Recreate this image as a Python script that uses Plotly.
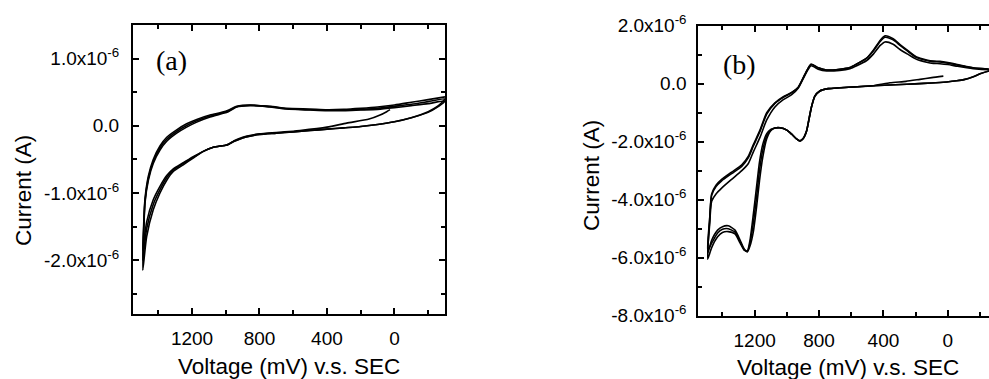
import plotly.graph_objects as go

# ---------------- Panel (a) data (voltage mV, current in microamps) ----------------
a_tail_V = [26, 46, 85, 150, 283, 400, 560]
a_tail_I = [0.24, 0.21, 0.16, 0.10, 0.04, -0.02, -0.07]

a_low_V = [-300, -250, -200, -100, 0, 100, 200, 300, 400, 500, 600, 700, 800, 850, 900,
           950, 980, 1000, 1030, 1074, 1133, 1193, 1252, 1311, 1350, 1390, 1430, 1469, 1492]
a_low_I1 = [0.43, 0.29, 0.22, 0.13, 0.07, 0.03, 0.00, -0.02, -0.04, -0.06, -0.08, -0.10, -0.12, -0.14, -0.17,
            -0.22, -0.27, -0.29, -0.30, -0.32, -0.38, -0.48, -0.58, -0.68, -0.81, -1.00, -1.25, -1.65, -2.15]
a_low_I2 = [0.40, 0.28, 0.21, 0.12, 0.06, 0.02, -0.01, -0.03, -0.05, -0.07, -0.09, -0.11, -0.13, -0.15, -0.18,
            -0.23, -0.27, -0.29, -0.30, -0.32, -0.38, -0.47, -0.56, -0.66, -0.77, -0.95, -1.17, -1.53, -2.00]
a_low_I3 = [0.37, 0.27, 0.20, 0.12, 0.06, 0.02, -0.01, -0.03, -0.05, -0.07, -0.09, -0.11, -0.13, -0.15, -0.18,
            -0.23, -0.27, -0.29, -0.30, -0.32, -0.38, -0.46, -0.55, -0.64, -0.74, -0.90, -1.10, -1.43, -1.85]

a_up_V = [1492, 1489, 1479, 1459, 1430, 1390, 1350, 1291, 1232, 1172, 1093, 1024, 985, 935,
          856, 738, 639, 500, 400, 300, 200, 100, 0, -100, -200, -300]
a_up_I1 = [-2.15, -1.80, -1.15, -0.81, -0.56, -0.36, -0.23, -0.11, -0.02, 0.055, 0.13, 0.18, 0.21, 0.28,
           0.30, 0.29, 0.26, 0.25, 0.24, 0.245, 0.26, 0.28, 0.31, 0.35, 0.39, 0.43]
a_up_I2 = [-2.00, -1.72, -1.12, -0.78, -0.53, -0.33, -0.20, -0.085, 0.005, 0.075, 0.145, 0.19, 0.22, 0.285,
           0.305, 0.285, 0.255, 0.24, 0.235, 0.235, 0.245, 0.26, 0.29, 0.32, 0.36, 0.40]
a_up_I3 = [-1.85, -1.62, -1.09, -0.75, -0.50, -0.30, -0.17, -0.06, 0.03, 0.095, 0.16, 0.20, 0.23, 0.29,
           0.31, 0.28, 0.25, 0.235, 0.225, 0.225, 0.235, 0.245, 0.27, 0.30, 0.33, 0.37]

# ---------------- Panel (b) data ----------------
b_tail_V = [28, 100, 173, 260, 360, 463]
b_tail_I = [0.26, 0.21, 0.15, 0.08, 0.03, -0.07]

b_low_V = [-300, -255, -200, -158, -100, -55, 7, 49, 150, 256, 463, 670, 743, 795, 826, 846, 860, 877,
           900, 918, 940, 970, 1000, 1043, 1074, 1100, 1125, 1150, 1170, 1187, 1208, 1229, 1245, 1265,
           1290, 1322, 1364, 1400, 1430, 1467, 1492]
b_low_I1 = [0.48, 0.44, 0.34, 0.24, 0.14, 0.10, 0.06, 0.04, 0.01, -0.02, -0.07, -0.14, -0.17, -0.25, -0.43,
            -0.78, -1.15, -1.62, -1.90, -1.97, -1.90, -1.74, -1.60, -1.52, -1.53, -1.62, -1.90, -2.55,
            -3.35, -4.20, -5.10, -5.60, -5.80, -5.70, -5.40, -5.05, -4.90, -4.93, -5.05, -5.40, -5.86]
b_low_I2 = [0.48, 0.44, 0.34, 0.24, 0.14, 0.10, 0.06, 0.04, 0.01, -0.02, -0.07, -0.14, -0.17, -0.25, -0.43,
            -0.78, -1.15, -1.62, -1.90, -1.97, -1.90, -1.74, -1.60, -1.52, -1.53, -1.60, -1.80, -2.30,
            -3.00, -3.85, -4.80, -5.50, -5.78, -5.72, -5.45, -5.12, -5.00, -5.02, -5.15, -5.50, -5.75]
b_low_I3 = [0.48, 0.44, 0.34, 0.24, 0.14, 0.10, 0.06, 0.04, 0.01, -0.02, -0.07, -0.14, -0.17, -0.25, -0.43,
            -0.78, -1.15, -1.62, -1.90, -1.97, -1.90, -1.74, -1.60, -1.52, -1.53, -1.58, -1.72, -2.10,
            -2.70, -3.50, -4.50, -5.40, -5.76, -5.74, -5.50, -5.18, -5.10, -5.13, -5.28, -5.65, -6.05]

b_up_V = [1492, 1480, 1467, 1440, 1405, 1343, 1280, 1239, 1208, 1167, 1125, 1074, 1022, 970, 929, 887,
          850, 805, 753, 671, 608, 566, 504, 463, 420, 390, 340, 297, 250, 194, 132, 90, 49, 0, -60,
          -117, -158, -255, -300]
b_up_I1 = [-5.86, -4.90, -4.05, -3.80, -3.60, -3.30, -3.00, -2.75, -2.35, -1.85, -1.25, -0.80, -0.55,
           -0.38, -0.15, 0.30, 0.62, 0.50, 0.44, 0.46, 0.52, 0.62, 0.80, 1.02, 1.32, 1.44, 1.36, 1.18,
           1.02, 0.84, 0.74, 0.70, 0.69, 0.66, 0.60, 0.55, 0.52, 0.48, 0.48]
b_up_I2 = [-5.75, -4.70, -3.85, -3.55, -3.35, -3.10, -2.85, -2.55, -2.15, -1.65, -1.05, -0.68, -0.47,
           -0.31, -0.12, 0.33, 0.67, 0.55, 0.47, 0.50, 0.56, 0.68, 0.88, 1.13, 1.46, 1.60, 1.51, 1.32,
           1.12, 0.90, 0.80, 0.76, 0.75, 0.71, 0.64, 0.58, 0.54, 0.50, 0.48]
b_up_I3 = [-6.05, -4.75, -3.80, -3.50, -3.30, -3.05, -2.80, -2.50, -2.10, -1.60, -1.00, -0.66, -0.45,
           -0.30, -0.12, 0.33, 0.67, 0.55, 0.47, 0.50, 0.56, 0.68, 0.88, 1.15, 1.50, 1.65, 1.55, 1.35,
           1.15, 0.92, 0.82, 0.78, 0.77, 0.73, 0.66, 0.59, 0.55, 0.50, 0.48]

a_yticks = [1.0, 0.0, -1.0, -2.0]
a_ytext = ["1.0x10<sup>-6</sup>", "0.0", "-1.0x10<sup>-6</sup>", "-2.0x10<sup>-6</sup>"]
b_yticks = [2.0, 0.0, -2.0, -4.0, -6.0, -8.0]
b_ytext = ["2.0x10<sup>-6</sup>", "0.0", "-2.0x10<sup>-6</sup>", "-4.0x10<sup>-6</sup>",
           "-6.0x10<sup>-6</sup>", "-8.0x10<sup>-6</sup>"]
x_ticks = [1200, 800, 400, 0]
x_minor = [1400, 1000, 600, 200, -200]

UA = 1e-6


def sel(V, I, vmin):
    out_v, out_i = [], []
    for v, i in zip(V, I):
        if v >= vmin:
            out_v.append(v)
            out_i.append(i)
    return out_v, out_i


def cycle(lowV, lowI, upV, upI, tailV=None, tailI=None, join=None):
    xs, ys = [], []
    if tailV is not None:
        xs += tailV
        ys += tailI
        lv, li = sel(lowV, lowI, join)
        xs += lv
        ys += li
    else:
        xs += lowV
        ys += lowI
    xs += upV[1:]
    ys += upI[1:]
    return xs, [y * UA for y in ys]


fig = go.Figure()
line = dict(color="black", width=1.6, shape="spline", smoothing=0.6)

for k, (li, ui) in enumerate([(a_low_I1, a_up_I1), (a_low_I2, a_up_I2), (a_low_I3, a_up_I3)]):
    if k == 0:
        xs, ys = cycle(a_low_V, li, a_up_V, ui, a_tail_V, a_tail_I, 600)
    else:
        xs, ys = cycle(a_low_V, li, a_up_V, ui)
    fig.add_trace(go.Scatter(x=xs, y=ys, mode="lines", line=line, xaxis="x", yaxis="y",
                             showlegend=False, hoverinfo="skip"))

for k, (li, ui) in enumerate([(b_low_I1, b_up_I1), (b_low_I2, b_up_I2), (b_low_I3, b_up_I3)]):
    if k == 0:
        xs, ys = cycle(b_low_V, li, b_up_V, ui, b_tail_V, b_tail_I, 600)
    else:
        xs, ys = cycle(b_low_V, li, b_up_V, ui)
    fig.add_trace(go.Scatter(x=xs, y=ys, mode="lines", line=line, xaxis="x2", yaxis="y2",
                             showlegend=False, hoverinfo="skip"))

tickfont = dict(family="Liberation Sans, Arial, sans-serif", size=19, color="black")
common_x = dict(showline=True, linecolor="black", linewidth=2, mirror="ticks", ticks="inside",
                ticklen=6, tickwidth=1.5, tickcolor="black", showgrid=False, zeroline=False,
                tickvals=x_ticks, ticktext=[str(v) for v in x_ticks], tickfont=tickfont,
                minor=dict(tickvals=x_minor, ticks="inside", ticklen=4, tickwidth=1.5, tickcolor="black"),
                ticklabelstandoff=6, automargin=False)

fig.update_layout(
    width=989, height=379,
    margin=dict(l=0, r=0, t=0, b=0),
    paper_bgcolor="white", plot_bgcolor="white",
    xaxis=dict(domain=[133 / 989, 445 / 989], range=[1550, -300], anchor="y", **common_x),
    yaxis=dict(domain=[1 - 314 / 379, 1 - 25 / 379], range=[-2.8e-6, 1.5e-6], anchor="x",
               showline=True, linecolor="black", linewidth=2, mirror="ticks", ticks="inside",
               ticklen=6, tickwidth=1.5, tickcolor="black", showgrid=False, zeroline=False,
               tickvals=[v * UA for v in a_yticks], ticktext=a_ytext, tickfont=tickfont,
               minor=dict(tickvals=[0.5e-6, -0.5e-6, -1.5e-6, -2.5e-6], ticks="inside", ticklen=4,
                          tickwidth=1.5, tickcolor="black"),
               ticklabelstandoff=8, automargin=False),
    xaxis2=dict(domain=[698.3 / 989, 1.0], range=[1550, -255.5], anchor="y2", **common_x),
    yaxis2=dict(domain=[1 - 315.7 / 379, 1 - 25.7 / 379], range=[-8e-6, 2e-6], anchor="x2",
                showline=True, linecolor="black", linewidth=2, mirror=False, ticks="inside",
                ticklen=6, tickwidth=1.5, tickcolor="black", showgrid=False, zeroline=False,
                tickvals=[v * UA for v in b_yticks], ticktext=b_ytext, tickfont=tickfont,
                minor=dict(tickvals=[1e-6, -1e-6, -3e-6, -5e-6, -7e-6], ticks="inside", ticklen=4,
                           tickwidth=1.5, tickcolor="black"),
                ticklabelstandoff=6, automargin=False),
)

title_font = dict(family="Liberation Sans, Arial, sans-serif", size=22.5, color="black")
label_font = dict(family="Liberation Serif, Times New Roman, serif", size=28, color="black")
ann = [
    dict(text="(a)", x=171 / 989, y=1 - 61 / 379, font=label_font),
    dict(text="(b)", x=739.5 / 989, y=1 - 65 / 379, font=label_font),
    dict(text="Current (A)", x=23 / 989, y=1 - 191 / 379, font=title_font, textangle=-90),
    dict(text="Current (A)", x=591 / 989, y=1 - 176 / 379, font=title_font, textangle=-90),
    dict(text="Voltage (mV) v.s. SEC", x=289 / 989, y=1 - 366 / 379, font=title_font),
    dict(text="Voltage (mV) v.s. SEC", x=847.5 / 989, y=1 - 367 / 379, font=title_font),
]
for a in ann:
    fig.add_annotation(xref="paper", yref="paper", showarrow=False, xanchor="center",
                       yanchor="middle", **a)

fig.write_html("out.html")
